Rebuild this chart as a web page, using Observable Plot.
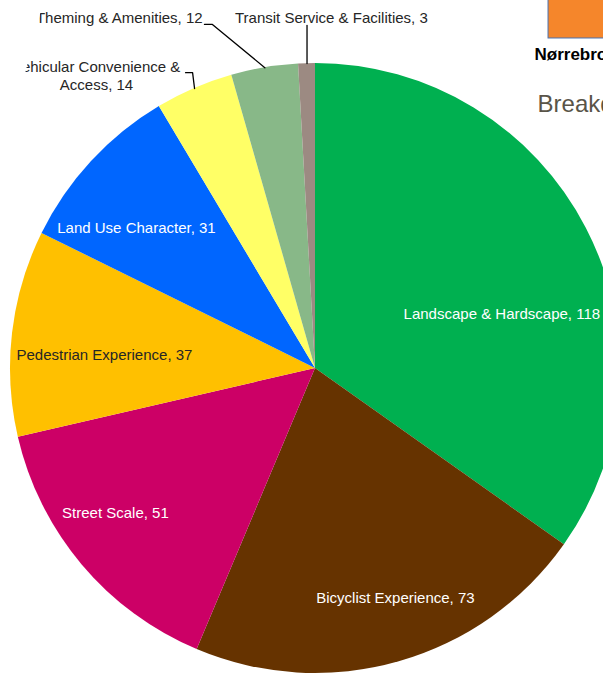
<!DOCTYPE html>
<html>
<head>
<meta charset="utf-8">
<script src="https://cdn.jsdelivr.net/npm/d3@7"></script>
<script src="https://cdn.jsdelivr.net/npm/@observablehq/plot@0.6"></script>
<style>
html, body { margin: 0; padding: 0; background: #fff; overflow: hidden; }
#chart svg { overflow: hidden; display: block; }
</style>
</head>
<body>
<div id="chart"></div>
<script>
// ---- data ----
const categories = [
  "Landscape & Hardscape",
  "Bicyclist Experience",
  "Street Scale",
  "Pedestrian Experience",
  "Land Use Character",
  "Vehicular Convenience & Access",
  "Theming & Amenities",
  "Transit Service & Facilities"
];
const values = [118, 73, 51, 37, 31, 14, 12, 3];
const colors = ["#00B050", "#663300", "#CC0066", "#FFC000", "#0066FF", "#FFFF66", "#88B888", "#9C8A82"];
const labelColors = ["#ffffff", "#ffffff", "#ffffff", "#262626", "#ffffff", "#262626", "#262626", "#262626"];
const labelWrap = { "Vehicular Convenience & Access": "Vehicular Convenience &\nAccess" };
const legendLabel = "Nørrebro";
const titleText = "Breakdown";

// ---- layout (chart units: pie radius = 1, centre = 0,0) ----
const W = 603, H = 681, CX = 315, CY = 368, R = 305;
const labelPos = [
  [0.611, 0.180, "middle"],
  [0.262, -0.751, "middle"],
  [-0.656, -0.472, "middle"],
  [-0.692, 0.046, "middle"],
  [-0.587, 0.462, "middle"],
  [-0.718, 0.961, "middle"],
  [-0.370, 1.148, "end"],
  [0.052, 1.151, "middle"]
];
// leader lines: [start, elbow] for outside labels (null = no leader)
const leaderStart = [null, null, null, null, null,
  [[-0.426, 0.970], [-0.403, 0.970]],
  [[-0.364, 1.128], [-0.338, 1.128]],
  [[null, 1.125]]
];

const rows = categories.map((c, i) => ({ category: c, value: values[i], color: colors[i], i }));
const arcs = d3.pie().sort(null).value(d => d.value)(rows);

const labelRows = rows.map((r, i) => ({
  text: `${labelWrap[r.category] || r.category}, ${r.value}`,
  x: labelPos[i][0], y: labelPos[i][1], anchor: labelPos[i][2],
  fill: labelColors[i], inside: i < 5
}));

const leaderPts = [];
arcs.forEach((a, i) => {
  const ls = leaderStart[i];
  if (!ls) return;
  const mid = (a.startAngle + a.endAngle) / 2;
  const ex = Math.sin(mid), ey = Math.cos(mid);
  ls.forEach(p => leaderPts.push({ key: i, x: p[0] == null ? ex : p[0], y: p[1] }));
  leaderPts.push({ key: i, x: ex, y: ey });
});

function wedges(index, scales) {
  const cx = scales.x(0), cy = scales.y(0), r = scales.x(1) - scales.x(0);
  const arc = d3.arc().innerRadius(0).outerRadius(r);
  const g = d3.create("svg:g").attr("transform", `translate(${cx},${cy})`);
  g.selectAll("path").data(arcs).join("path")
    .attr("d", arc).attr("fill", d => d.data.color);
  return g.node();
}

const font = "'Liberation Sans', Arial, sans-serif";
const swatch = [{ x1: 0.764, x2: 1.2, y1: 1.082, y2: 1.4 }];

const plot = Plot.plot({
  width: W, height: H,
  margin: 0,
  style: { fontFamily: font, background: "#fff" },
  x: { domain: [-CX / R, (W - CX) / R], range: [0, W], axis: null },
  y: { domain: [-(H - CY) / R, CY / R], range: [H, 0], axis: null },
  marks: [
    wedges,
    Plot.line(leaderPts, { x: "x", y: "y", z: "key", stroke: "#000", strokeWidth: 1.3, curve: "linear" }),
    Plot.text(labelRows.filter(d => d.anchor === "middle"), {
      x: "x", y: "y", text: "text", fill: "fill", fontSize: 15, textAnchor: "middle", lineAnchor: "middle",
      lineHeight: 1.2
    }),
    Plot.text(labelRows.filter(d => d.anchor === "end"), {
      x: "x", y: "y", text: "text", fill: "fill", fontSize: 15, textAnchor: "end", lineAnchor: "middle"
    }),
    Plot.rect(swatch, { x1: "x1", x2: "x2", y1: "y1", y2: "y2", fill: "#F5862B", stroke: "#4A72B0", strokeWidth: 1 }),
    Plot.text([legendLabel], { x: 0.718, y: 1.030, text: d => d, fontSize: 17, fontWeight: "bold", fill: "#000", textAnchor: "start", lineAnchor: "middle" }),
    Plot.text([titleText], { x: 0.728, y: 0.866, text: d => d, fontSize: 24, fill: "#595448", textAnchor: "start", lineAnchor: "middle" })
  ]
});

// clip the outside labels at the left edge like the original
const svg = d3.select(plot);
svg.insert("defs", ":first-child").append("clipPath").attr("id", "leftclip")
  .attr("clipPathUnits", "userSpaceOnUse")
  .append("polygon").attr("points", "43,0 700,0 700,700 0,700 0,170");
svg.selectAll("text").filter(function () {
  const t = this.textContent || "";
  return t.startsWith("Theming") || t.startsWith("Vehicular");
}).each(function () {
  const wrap = document.createElementNS("http://www.w3.org/2000/svg", "g");
  wrap.setAttribute("clip-path", "url(#leftclip)");
  this.parentNode.insertBefore(wrap, this);
  wrap.appendChild(this);
});

document.getElementById("chart").appendChild(plot);
</script>
</body>
</html>
